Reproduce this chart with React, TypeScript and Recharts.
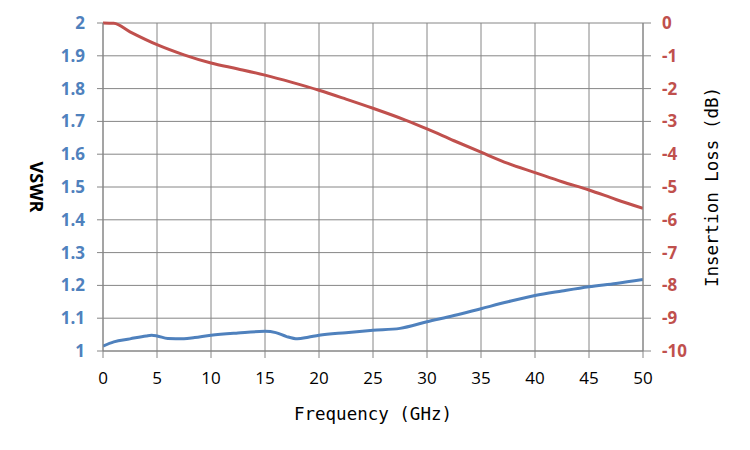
import React from 'react';
import { LineChart, Line, XAxis, YAxis, CartesianGrid, Label } from 'recharts';

const freqTicks = [0, 5, 10, 15, 20, 25, 30, 35, 40, 45, 50];
const vswrTicks = [1, 1.1, 1.2, 1.3, 1.4, 1.5, 1.6, 1.7, 1.8, 1.9, 2];
const lossTicks = [-10, -9, -8, -7, -6, -5, -4, -3, -2, -1, 0];

const vswrFreq = [0, 1, 2.5, 4, 4.5, 5, 6, 7.5, 8.5, 10, 12.5, 15, 16, 17, 18, 19, 20, 22.5, 25, 27.5, 30, 32.5, 35, 37.5, 40, 42.5, 45, 47.5, 50];
const vswrValues = [1.015, 1.028, 1.037, 1.046, 1.048, 1.046, 1.038, 1.037, 1.041, 1.048, 1.055, 1.06, 1.056, 1.044, 1.037, 1.042, 1.048, 1.056, 1.063, 1.069, 1.089, 1.108, 1.129, 1.15, 1.169, 1.183, 1.196, 1.206, 1.218];

const lossFreq = [0, 1, 2.5, 5, 7.5, 10, 12.5, 15, 17.5, 20, 22.5, 25, 28, 30, 32.5, 35, 37.5, 40, 42.5, 45, 47.5, 50];
const lossValues = [0, -0.01, -0.27, -0.66, -0.97, -1.22, -1.4, -1.59, -1.81, -2.05, -2.32, -2.6, -2.96, -3.23, -3.59, -3.94, -4.28, -4.56, -4.84, -5.09, -5.38, -5.65];

const vswrData = vswrFreq.map((f, i) => ({ freq: f, vswr: vswrValues[i] }));
const lossData = lossFreq.map((f, i) => ({ freq: f, loss: lossValues[i] }));

const GRID = '#868686';
const BLUE = '#4F81BD';
const RED = '#C0504D';

const tickFontBase = { fontFamily: '"Open Sans", sans-serif', fontSize: 17 };
const titleFont = '"DejaVu Sans Mono", monospace';

export default function App() {
  return (
    <LineChart width={740} height={440} margin={{ top: 15, right: 0, left: 0, bottom: 0 }}>
      <CartesianGrid stroke={GRID} strokeWidth={1} yAxisId="left" horizontalValues={vswrTicks} verticalValues={freqTicks} />
      <XAxis
        type="number"
        dataKey="freq"
        domain={[0, 50]}
        ticks={freqTicks}
        interval={0}
        height={97}
        tickSize={7}
        tickMargin={14}
        axisLine={{ stroke: GRID }}
        tickLine={{ stroke: GRID }}
        tick={{ ...tickFontBase, fill: '#000000' }}
        allowDataOverflow
      >
        <Label
          content={(props: any) => {
            const vb = props.viewBox || { x: 95, y: 343, width: 540, height: 97 };
            return (
              <text x={vb.x + vb.width / 2} y={vb.y + 69} textAnchor="middle" fontFamily={titleFont} fontSize={17.5} fill="#000000">
                Frequency (GHz)
              </text>
            );
          }}
        />
      </XAxis>
      <YAxis
        yAxisId="left"
        orientation="left"
        domain={[1, 2]}
        ticks={vswrTicks}
        interval={0}
        width={95}
        tickSize={6}
        tickMargin={12}
        axisLine={{ stroke: GRID }}
        tickLine={{ stroke: GRID }}
        tick={{ ...tickFontBase, fill: BLUE, fontWeight: 'bold' }}
        tickFormatter={(v: number) => String(Math.round(v * 10) / 10)}
      >
        <Label
          content={(props: any) => {
            const vb = props.viewBox || { x: 0, y: 15, width: 95, height: 328 };
            const cx = 29;
            const cy = vb.y + vb.height / 2;
            return (
              <text x={cx} y={cy} transform={`rotate(90 ${cx} ${cy})`} textAnchor="middle" dominantBaseline="central" fontFamily='"Open Sans", sans-serif' fontWeight="bold" fontSize={18} fill="#000000">
                VSWR
              </text>
            );
          }}
        />
      </YAxis>
      <YAxis
        yAxisId="right"
        orientation="right"
        domain={[-10, 0]}
        ticks={lossTicks}
        interval={0}
        width={105}
        tickSize={8}
        tickMargin={11}
        axisLine={{ stroke: GRID }}
        tickLine={{ stroke: GRID }}
        tick={{ ...tickFontBase, fill: RED, fontWeight: 'bold', textAnchor: 'start' }}
      >
        <Label
          content={(props: any) => {
            const vb = props.viewBox || { x: 635, y: 15, width: 105, height: 328 };
            const cx = 704;
            const cy = vb.y + vb.height / 2;
            return (
              <text x={cx} y={cy} transform={`rotate(-90 ${cx} ${cy})`} textAnchor="middle" dominantBaseline="central" fontFamily={titleFont} fontSize={17.5} fill="#000000">
                Insertion Loss (dB)
              </text>
            );
          }}
        />
      </YAxis>
      <Line
        yAxisId="left"
        data={vswrData}
        dataKey="vswr"
        type="monotone"
        stroke={BLUE}
        strokeWidth={3}
        dot={false}
        activeDot={false}
        isAnimationActive={false}
      />
      <Line
        yAxisId="right"
        data={lossData}
        dataKey="loss"
        type="monotone"
        stroke={RED}
        strokeWidth={3}
        dot={false}
        activeDot={false}
        isAnimationActive={false}
      />
    </LineChart>
  );
}
